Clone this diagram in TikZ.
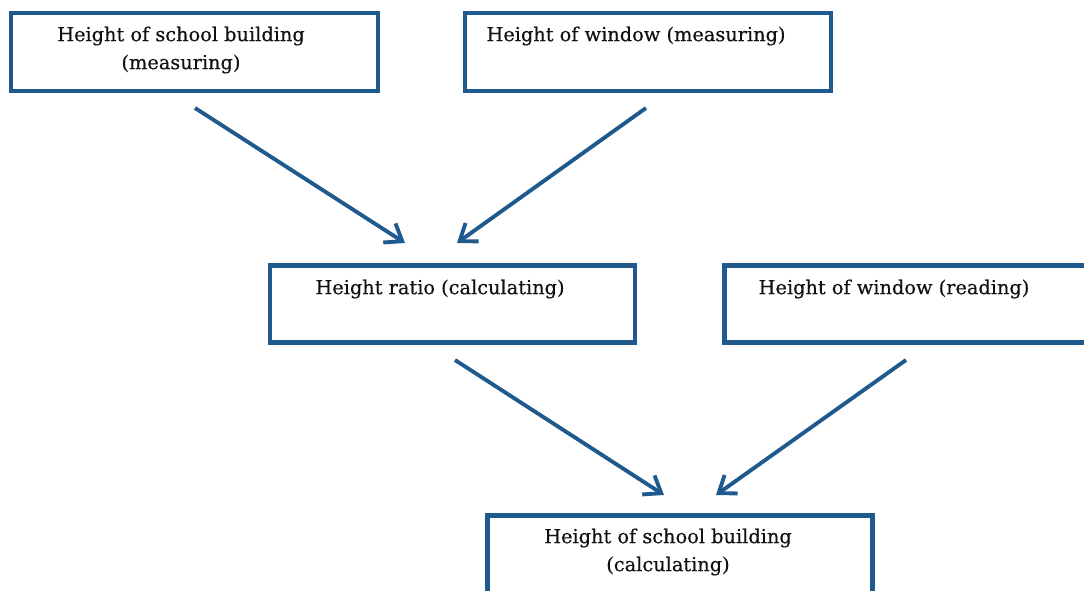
\documentclass[tikz,border=0pt]{standalone}
\usepackage{fontspec}
\setmainfont[FakeBold=0.4]{DejaVu Serif}
\usetikzlibrary{arrows.meta}
\definecolor{boxblue}{HTML}{1F5A8E}
\definecolor{txt}{HTML}{111111}
\begin{document}
\begin{tikzpicture}[x=0.75pt,y=-0.75pt,
  box/.style={draw=boxblue,line width=3.4pt,fill=white,inner sep=0pt},
  lbl/.style={text=txt,align=center,inner sep=0pt,font=\fontsize{14.5}{21}\selectfont},
  conn/.style={draw=boxblue,line width=2.9pt,-{Straight Barb[length=11.5pt,width=17pt,line width=2.9pt]}}]
\useasboundingbox (0,0) rectangle (1084,591);
\clip (0,0) rectangle (1084,591);
\fill[white] (0,0) rectangle (1084,591);
% boxes
\node[box,minimum width=275.25pt,minimum height=58.5pt] (bA) at (194.5,52) {};
\node[box,minimum width=274.5pt,minimum height=58.5pt] (bB) at (648,52) {};
\node[box,minimum width=273.75pt,minimum height=57.75pt] (bC) at (452.5,303.75) {};
\node[box,minimum width=281.25pt,minimum height=57.75pt] (bD) at (912,303.75) {};
\node[box,minimum width=288.75pt,minimum height=78pt] (bE) at (680,567.5) {};
% labels
\node[lbl] (tA) at (181,50) {Height of school building\\(measuring)};
\node[lbl] (tB) at (636,36) {Height of window (measuring)};
\node[lbl] (tC) at (440,289) {Height ratio (calculating)};
\node[lbl] (tD) at (894,289) {Height of window (reading)};
\node[lbl] (tE) at (668,552) {Height of school building\\(calculating)};
% arrow end points
\coordinate (a1s) at (195,108); \coordinate (a1e) at (405,243);
\coordinate (a2s) at (646,108); \coordinate (a2e) at (457,243);
\coordinate (a3s) at (455,360); \coordinate (a3e) at (664,495);
\coordinate (a4s) at (906,360); \coordinate (a4e) at (716,495);
\draw[conn] (a1s) -- (a1e);
\draw[conn] (a2s) -- (a2e);
\draw[conn] (a3s) -- (a3e);
\draw[conn] (a4s) -- (a4e);
\end{tikzpicture}
\end{document}
